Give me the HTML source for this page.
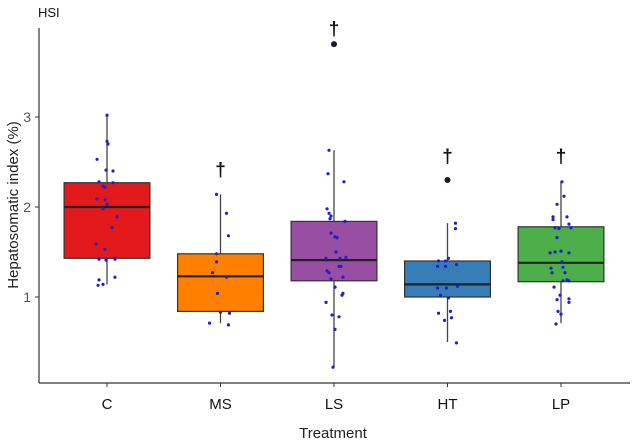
<!DOCTYPE html>
<html><head><meta charset="utf-8"><style>
body{margin:0;background:#fff}
svg text{font-family:"Liberation Sans",Arial,sans-serif}
</style></head><body>
<svg id="chart" width="633" height="443" viewBox="0 0 633 443" xmlns="http://www.w3.org/2000/svg">
<text x="38" y="17" font-size="13" fill="#111">HSI</text>
<g id="plot"></g>
<line x1="39" y1="28" x2="39" y2="383" stroke="#333" stroke-width="1.2"/>
<line x1="39" y1="383" x2="630" y2="383" stroke="#333" stroke-width="1.2"/>
<g id="axes"></g>
<text x="333" y="438" font-size="15" text-anchor="middle" fill="#222">Treatment</text>
<text transform="translate(18,205) rotate(-90)" font-size="15" text-anchor="middle" fill="#222">Hepatosomatic index (%)</text>
</svg>
<script>
const categories=["C","MS","LS","HT","LP"];
const colors=["#e31a1c","#ff7f00","#984ea3","#377eb8","#4daf4a"];
const q1=[1.43,0.84,1.18,1.00,1.17];
const medians=[2.00,1.23,1.41,1.14,1.38];
const q3=[2.27,1.48,1.84,1.40,1.78];
const whiskLow=[1.14,0.71,0.22,0.50,0.71];
const whiskHigh=[3.02,2.14,2.63,1.82,2.29];
const outliers=[[],[],[3.81],[2.30],[]];
const daggerY=[null,2.41,3.98,2.56,2.56];
const yTicks=[1,2,3];
const ptsC=[3.02,2.73,2.70,2.53,2.41,2.40,2.28,2.27,2.23,2.22,2.09,2.08,2.03,1.98,1.89,1.77,1.59,1.53,1.42,1.41,1.42,1.43,1.19,1.22,1.13,1.14];
const jitC=[0,0,1,-10,-1,6,-8,6,-4,-2,-10,-2,0,-4,10,5,-11,-2,-8,-1,8,8,-8,8,-9,-4];
const ptsMS=[2.14,1.93,1.68,1.48,1.39,1.27,1.22,1.04,0.83,0.82,0.71,0.69];
const jitMS=[-4,6,8,-4,-4,-8,6,-3,0,9,-11,8];
const ptsLS=[2.63,2.37,2.28,1.98,1.93,1.90,1.87,1.84,1.71,1.67,1.66,1.50,1.43,1.43,1.44,1.34,1.34,1.29,1.27,1.22,1.20,1.11,1.04,1.02,0.94,0.80,0.78,0.64,0.22];
const jitLS=[-5,-6,10,-7,-5,-3,-4,11,-3,1,3,2,-8,6,12,5,7,-7,-5,9,-3,1,9,8,-8,-2,5,1,-1];
const ptsHT=[1.82,1.76,1.43,1.40,1.40,1.36,1.34,1.34,1.12,1.10,1.10,1.02,0.99,0.82,0.84,0.77,0.74,0.49];
const jitHT=[8,8,1,-9,-2,9,-10,-2,10,-10,-1,-7,1,-9,3,4,-3,9];
const ptsLP=[2.28,2.12,2.03,1.89,1.86,1.89,1.81,1.77,1.76,1.77,1.66,1.49,1.50,1.51,1.49,1.39,1.32,1.33,1.27,1.27,1.18,1.19,1.18,1.11,1.02,0.98,0.94,0.97,0.84,0.81,0.70];
const jitLP=[1,3,-4,-8,-8,6,8,-6,-2,10,-4,-11,-6,0,8,1,-10,2,-9,4,2,6,8,-7,-1,8,8,-4,-3,0,-5];
const points=[ptsC,ptsMS,ptsLS,ptsHT,ptsLP];
const jitters=[jitC,jitMS,jitLS,jitHT,jitLP];

const NS="http://www.w3.org/2000/svg";
const band=113.5, x0=107;
function xOf(i){return x0+i*band;}
function yOf(v){return 297-(v-1)*90;}
const halfW=band*0.378;
function mk(tag,attrs,parent){const e=document.createElementNS(NS,tag);for(const k in attrs)e.setAttribute(k,attrs[k]);parent.appendChild(e);return e;}
const plot=document.getElementById('plot'), axes=document.getElementById('axes');

categories.forEach((c,i)=>{
  const cx=xOf(i);
  const g=mk('g',{},plot);
  
  
  const w=mk('line',{x1:cx,x2:cx,y1:yOf(whiskHigh[i]),y2:yOf(whiskLow[i]),stroke:'#444','stroke-width':1.3},g);
  
  
  const r=mk('rect',{x:cx-halfW,y:yOf(q3[i]),width:2*halfW,height:yOf(q1[i])-yOf(q3[i]),fill:colors[i],stroke:'#333','stroke-width':1.2},g);
  
  
  const m=mk('line',{x1:cx-halfW,x2:cx+halfW,y1:yOf(medians[i]),y2:yOf(medians[i]),stroke:'#222','stroke-width':2.2},g);
  
  
  outliers[i].forEach(v=>{
    const o=mk('circle',{cx:cx,cy:yOf(v),r:3,fill:'#1a1a2e'},g);
    
    
  });
  points[i].forEach((v,k)=>{
    const p=mk('circle',{cx:cx+jitters[i][k]*band/114,cy:yOf(v),r:1.6,fill:'#1f1fd0'},g);
    
    
  });
  if(daggerY[i]!==null){
    const d=mk('text',{x:cx,y:yOf(daggerY[i])+6,'font-size':19,'font-weight':'bold','text-anchor':'middle',fill:'#111'},g);
    d.textContent='†';
    
    
  }
  const t=mk('line',{x1:cx,x2:cx,y1:383,y2:387,stroke:'#333','stroke-width':1},axes);
  
  
  const l=mk('text',{x:cx,y:409,'font-size':15,'text-anchor':'middle',fill:'#111'},axes);
  l.textContent=c;
  
  
});
yTicks.forEach(v=>{
  const t=mk('line',{x1:35,x2:39,y1:yOf(v),y2:yOf(v),stroke:'#333','stroke-width':1},axes);
  
  
  const l=mk('text',{x:31,y:yOf(v)+5,'font-size':14,'text-anchor':'end',fill:'#555'},axes);
  l.textContent=String(v);
  
  
});
</script>
</body></html>
